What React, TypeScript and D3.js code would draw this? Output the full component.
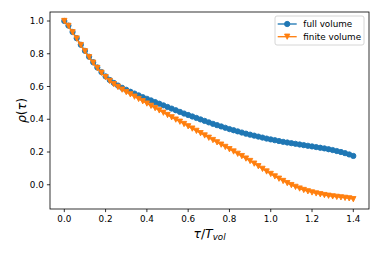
import React from "react";
import * as d3 from "d3";

// tau / T_vol sample grid and the two autocorrelation curves
const tau = [
  0.00, 0.02, 0.04, 0.06, 0.08, 0.10, 0.12, 0.14, 0.16, 0.18,
  0.20, 0.22, 0.24, 0.26, 0.28, 0.30, 0.32, 0.34, 0.36, 0.38,
  0.40, 0.42, 0.44, 0.46, 0.48, 0.50, 0.52, 0.54, 0.56, 0.58,
  0.60, 0.62, 0.64, 0.66, 0.68, 0.70, 0.72, 0.74, 0.76, 0.78,
  0.80, 0.82, 0.84, 0.86, 0.88, 0.90, 0.92, 0.94, 0.96, 0.98,
  1.00, 1.02, 1.04, 1.06, 1.08, 1.10, 1.12, 1.14, 1.16, 1.18,
  1.20, 1.22, 1.24, 1.26, 1.28, 1.30, 1.32, 1.34, 1.36, 1.38,
  1.40,
];

const fullVolume = [
  1.000, 0.972, 0.933, 0.895, 0.855, 0.818, 0.782, 0.748, 0.716, 0.688,
  0.662, 0.640, 0.622, 0.606, 0.592, 0.580, 0.568, 0.557, 0.546, 0.535,
  0.525, 0.515, 0.505, 0.495, 0.485, 0.475, 0.465, 0.455, 0.445, 0.435,
  0.426, 0.417, 0.408, 0.399, 0.390, 0.381, 0.372, 0.364, 0.356, 0.348,
  0.340, 0.333, 0.326, 0.319, 0.312, 0.306, 0.300, 0.294, 0.288, 0.282,
  0.277, 0.272, 0.267, 0.262, 0.258, 0.254, 0.250, 0.246, 0.242, 0.238,
  0.234, 0.230, 0.226, 0.222, 0.217, 0.212, 0.206, 0.200, 0.193, 0.185,
  0.176,
];

const finiteVolume = [
  1.000, 0.970, 0.931, 0.893, 0.853, 0.815, 0.779, 0.745, 0.713, 0.684,
  0.657, 0.634, 0.614, 0.597, 0.581, 0.566, 0.552, 0.538, 0.524, 0.510,
  0.496, 0.482, 0.468, 0.454, 0.440, 0.426, 0.412, 0.398, 0.385, 0.371,
  0.357, 0.343, 0.329, 0.315, 0.301, 0.287, 0.273, 0.259, 0.245, 0.231,
  0.217, 0.203, 0.189, 0.175, 0.160, 0.145, 0.129, 0.113, 0.097, 0.081,
  0.066, 0.051, 0.037, 0.023, 0.010, -0.002, -0.013, -0.023, -0.032, -0.040,
  -0.047, -0.053, -0.058, -0.063, -0.067, -0.071, -0.074, -0.077, -0.080, -0.083,
  -0.088,
];

const xTicks = [0.0, 0.2, 0.4, 0.6, 0.8, 1.0, 1.2, 1.4];
const yTicks = [0.0, 0.2, 0.4, 0.6, 0.8, 1.0];

const seriesNames = ["full volume", "finite volume"];
const seriesColors = ["#1f77b4", "#ff7f0e"];

const W = 382, H = 254;
const left = 50, right = 369, top = 12, bottom = 209;
const font = "DejaVu Sans, sans-serif";

const x = d3.scaleLinear().domain([-0.0693, 1.476]).range([left, right]);
const y = d3.scaleLinear().domain([-0.148, 1.055]).range([bottom, top]);

const line = d3.line<number>()
  .x((d, i) => x(tau[i]))
  .y((d) => y(d));

const r = 2.65; // marker half size (6pt at this dpi)

const Circle = ({ cx, cy, color }: { cx: number; cy: number; color: string }) => (
  <circle cx={cx} cy={cy} r={r} fill={color} stroke={color} strokeWidth={0.9} />
);

const TriDown = ({ cx, cy, color }: { cx: number; cy: number; color: string }) => (
  <path
    d={`M${cx - r},${cy - r}L${cx + r},${cy - r}L${cx},${cy + r}Z`}
    fill={color}
    stroke={color}
    strokeWidth={0.9}
    strokeLinejoin="miter"
  />
);

const App = () => {
  const series = [fullVolume, finiteVolume];
  return (
    <svg width={W} height={H} style={{ position: "absolute", left: 0, top: 0 }}>
      <rect width={W} height={H} fill="white" />

      {/* data */}
      {series.map((s, k) => (
        <g key={k}>
          <path d={line(s) || ""} fill="none" stroke={seriesColors[k]} strokeWidth={1.33} />
          {s.map((v, i) =>
            k === 0 ? (
              <Circle key={i} cx={x(tau[i])} cy={y(v)} color={seriesColors[k]} />
            ) : (
              <TriDown key={i} cx={x(tau[i])} cy={y(v)} color={seriesColors[k]} />
            )
          )}
        </g>
      ))}

      {/* frame */}
      <rect x={left} y={top} width={right - left} height={bottom - top}
        fill="none" stroke="black" strokeWidth={0.8} />

      {/* x ticks */}
      {xTicks.map((t) => (
        <g key={t}>
          <line x1={x(t)} x2={x(t)} y1={bottom} y2={bottom + 3.1} stroke="black" strokeWidth={0.8} />
          <text x={x(t)} y={222.3} textAnchor="middle" fontFamily={font} fontSize={8.8} fill="black">
            {t.toFixed(1)}
          </text>
        </g>
      ))}

      {/* y ticks */}
      {yTicks.map((t) => (
        <g key={t}>
          <line x1={left - 3.1} x2={left} y1={y(t)} y2={y(t)} stroke="black" strokeWidth={0.8} />
          <text x={left - 6.2} y={y(t)} dy="0.35em" textAnchor="end" fontFamily={font} fontSize={8.8} fill="black">
            {t.toFixed(1)}
          </text>
        </g>
      ))}

      {/* axis labels */}
      <text x={(left + right) / 2} y={237.5} textAnchor="middle" fontFamily={font} fontSize={12.4} fontStyle="italic">
        τ<tspan fontStyle="normal">/</tspan>T<tspan fontSize={8.7} dy={2.5}>vol</tspan>
      </text>
      <text transform={`translate(26,${(top + bottom) / 2}) rotate(-90)`} textAnchor="middle"
        fontFamily={font} fontSize={12.4}>
        <tspan fontStyle="italic">ρ</tspan>(<tspan fontStyle="italic">τ</tspan>)
      </text>

      {/* legend */}
      <g>
        <rect x={275} y={16} width={89} height={29} rx={2} fill="white" fillOpacity={0.8}
          stroke="#cccccc" strokeWidth={0.8} />
        {seriesNames.map((name, k) => {
          const ly = 24 + k * 12.7;
          return (
            <g key={name}>
              <line x1={277.7} x2={296.7} y1={ly} y2={ly} stroke={seriesColors[k]} strokeWidth={1.33} />
              {k === 0 ? (
                <Circle cx={287.2} cy={ly} color={seriesColors[k]} />
              ) : (
                <TriDown cx={287.2} cy={ly} color={seriesColors[k]} />
              )}
              <text x={303.3} y={ly} dy="0.35em" fontFamily={font} fontSize={8.8} fill="black">
                {name}
              </text>
            </g>
          );
        })}
      </g>
    </svg>
  );
};

export default App;
